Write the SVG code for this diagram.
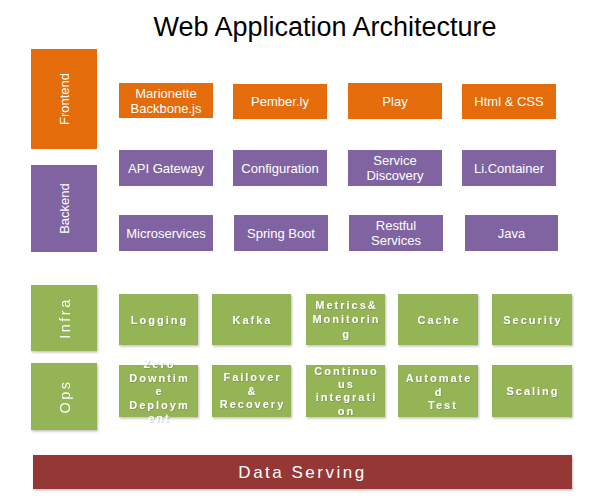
<svg xmlns="http://www.w3.org/2000/svg" width="595" height="499" viewBox="0 0 595 499">
<defs>
<filter id="sh" x="-10%" y="-10%" width="125%" height="130%">
<feDropShadow dx="1" dy="1.5" stdDeviation="1" flood-color="#000" flood-opacity="0.25"/>
</filter>
<filter id="ts" x="-20%" y="-20%" width="140%" height="160%">
<feDropShadow dx="0.6" dy="0.6" stdDeviation="0.6" flood-color="#555" flood-opacity="0.45"/>
</filter>
</defs>
<style>
text{font-family:"Liberation Sans",Arial,sans-serif;fill:#fff;text-anchor:middle}
.title{fill:#000;font-size:27px}
.or{fill:#E46C0A}
.pu{fill:#8064A2}
.gr{fill:#94B454}
.rd{fill:#953735}
.t{font-size:13px}
.side{font-size:13px}
.g{font-size:11px;font-weight:bold;letter-spacing:2px}
.gs{font-size:14.5px;letter-spacing:2.5px}
.ds{font-size:17px;letter-spacing:2.5px}
</style>
<rect width="595" height="499" fill="#fff"/>
<text class="title" x="325" y="36">Web Application Architecture</text>

<g id="frontend"><rect class="or" x="31" y="49" width="66" height="100"/><text class="side" transform="translate(68.5,99) rotate(-90)">Frontend</text></g>
<g id="backend"><rect class="pu" x="31" y="165" width="66" height="87"/><text class="side" transform="translate(68.5,208.5) rotate(-90)">Backend</text></g>
<g id="infra" filter="url(#sh)"><rect class="gr" x="31" y="285" width="66" height="66"/><text class="gs" transform="translate(69.5,318) rotate(-90)">Infra</text></g>
<g id="ops" filter="url(#sh)"><rect class="gr" x="31" y="363" width="66" height="67"/><text class="gs" transform="translate(69.5,396.5) rotate(-90)">Ops</text></g>

<g id="marionette"><rect class="or" x="119" y="83" width="94" height="35"/><text class="t" x="166" y="97.5">Marionette</text><text class="t" x="166" y="112.5">Backbone.js</text></g>
<g id="pemberly"><rect class="or" x="233" y="84" width="94" height="35"/><text class="t" x="280" y="106">Pember.ly</text></g>
<g id="play"><rect class="or" x="348" y="83" width="94" height="36"/><text class="t" x="395" y="105.5">Play</text></g>
<g id="htmlcss"><rect class="or" x="462" y="84" width="94" height="35"/><text class="t" x="509" y="106">Html &amp; CSS</text></g>

<g id="apigateway"><rect class="pu" x="119" y="150" width="94" height="36"/><text class="t" x="166" y="172.5">API Gateway</text></g>
<g id="configuration"><rect class="pu" x="233" y="150" width="94" height="36"/><text class="t" x="280" y="172.5">Configuration</text></g>
<g id="servicediscovery"><rect class="pu" x="348" y="150" width="94" height="36"/><text class="t" x="395" y="165">Service</text><text class="t" x="395" y="180">Discovery</text></g>
<g id="licontainer"><rect class="pu" x="462" y="150" width="94" height="36"/><text class="t" x="509" y="172.5">Li.Container</text></g>

<g id="microservices"><rect class="pu" x="119" y="215" width="94" height="36"/><text class="t" x="166" y="237.5">Microservices</text></g>
<g id="springboot"><rect class="pu" x="234" y="215" width="94" height="36"/><text class="t" x="281" y="237.5">Spring Boot</text></g>
<g id="restful"><rect class="pu" x="349" y="215" width="94" height="36"/><text class="t" x="396" y="230">Restful</text><text class="t" x="396" y="245">Services</text></g>
<g id="java"><rect class="pu" x="465" y="215" width="93" height="36"/><text class="t" x="511.5" y="237.5">Java</text></g>

<g id="logging"><rect class="gr" x="119" y="294" width="79" height="51" filter="url(#sh)"/><text class="g" x="159.5" y="323.5" filter="url(#ts)">Logging</text></g>
<g id="kafka"><rect class="gr" x="212" y="294" width="79" height="51" filter="url(#sh)"/><text class="g" x="252.5" y="323.5" filter="url(#ts)">Kafka</text></g>
<g id="metrics"><rect class="gr" x="306" y="294" width="79" height="51" filter="url(#sh)"/><g filter="url(#ts)"><text class="g" x="346.5" y="308.5">Metrics&amp;</text><text class="g" x="346.5" y="323">Monitorin</text><text class="g" x="346.5" y="337.5">g</text></g></g>
<g id="cache"><rect class="gr" x="398" y="294" width="80" height="51" filter="url(#sh)"/><text class="g" x="439" y="323.5" filter="url(#ts)">Cache</text></g>
<g id="security"><rect class="gr" x="492" y="294" width="80" height="51" filter="url(#sh)"/><text class="g" x="533" y="323.5" filter="url(#ts)">Security</text></g>

<g id="zerodowntime"><rect class="gr" x="119" y="365" width="79" height="52" filter="url(#sh)"/><g filter="url(#ts)"><text class="g" x="159.5" y="368">Zero</text><text class="g" x="159.5" y="381.5">Downtim</text><text class="g" x="159.5" y="395">e</text><text class="g" x="159.5" y="408.5">Deploym</text><text class="g" x="159.5" y="422">ent</text></g></g>
<g id="failover"><rect class="gr" x="212" y="365" width="79" height="52" filter="url(#sh)"/><g filter="url(#ts)"><text class="g" x="252.5" y="381">Failover</text><text class="g" x="252.5" y="394.5">&amp;</text><text class="g" x="252.5" y="408">Recovery</text></g></g>
<g id="continuous"><rect class="gr" x="306" y="365" width="79" height="52" filter="url(#sh)"/><g filter="url(#ts)"><text class="g" x="346.5" y="375">Continuo</text><text class="g" x="346.5" y="388">us</text><text class="g" x="346.5" y="401">integrati</text><text class="g" x="346.5" y="414.5">on</text></g></g>
<g id="automated"><rect class="gr" x="398" y="365" width="80" height="52" filter="url(#sh)"/><g filter="url(#ts)"><text class="g" x="439" y="382">Automate</text><text class="g" x="439" y="395.5">d</text><text class="g" x="443" y="408.5">Test</text></g></g>
<g id="scaling"><rect class="gr" x="492" y="365" width="80" height="52" filter="url(#sh)"/><text class="g" x="533" y="395" filter="url(#ts)">Scaling</text></g>

<g id="dataserving"><rect class="rd" x="33" y="455" width="539" height="34" filter="url(#sh)"/><text class="ds" x="302.5" y="478">Data Serving</text></g>
<g id="connectors"></g>
</svg>
